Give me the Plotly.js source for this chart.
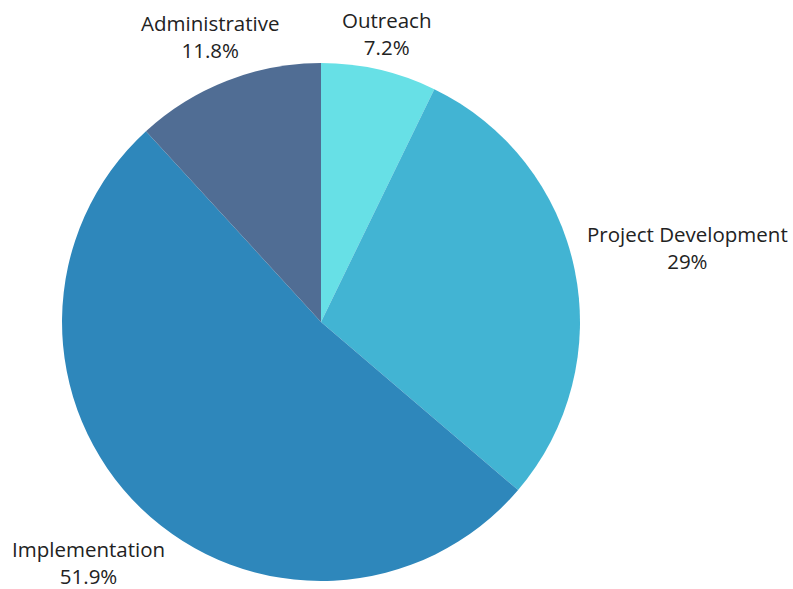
<!DOCTYPE html>
<html>
<head>
<meta charset="utf-8">
<script src="https://cdn.plot.ly/plotly-3.0.1.min.js"></script>
<style>html,body{margin:0;padding:0;background:#fff;}#chart{width:793px;height:589px;}</style>
</head>
<body>
<div id="chart"></div>
<script>
var categories = ["Outreach", "Project Development", "Implementation", "Administrative"];
var shares = [7.2, 29, 51.9, 11.8];
var colors = ["#67E0E6", "#42B4D3", "#2E87BB", "#506D94"];

// label placement (paper coordinates) for the outside labels
var labelX = [387 / 793, 687 / 793, 88 / 793, 210.5 / 793];
var labelY = [1 - 34 / 589, 1 - 247 / 589, 1 - 562 / 589, 1 - 36 / 589];

var trace = {
  type: "pie",
  labels: categories,
  values: shares,
  sort: false,
  direction: "clockwise",
  rotation: 0,
  marker: {colors: colors, line: {width: 0}},
  textinfo: "none",
  hoverinfo: "label+value",
  automargin: false,
  domain: {x: [0.0782, 0.7314], y: [0.0136, 0.893]}
};

var annotations = categories.map(function (c, i) {
  return {
    xref: "paper", yref: "paper",
    x: labelX[i], y: labelY[i],
    xanchor: "center", yanchor: "middle",
    text: c + "<br>" + shares[i] + "%",
    showarrow: false,
    align: "center",
    font: {family: "Open Sans, sans-serif", size: 20.5, color: "#222222"}
  };
});

var layout = {
  width: 793, height: 589,
  margin: {l: 0, r: 0, t: 0, b: 0},
  showlegend: false,
  paper_bgcolor: "#ffffff",
  annotations: annotations
};

Plotly.newPlot("chart", [trace], layout, {displayModeBar: false, staticPlot: true});
</script>
</body>
</html>
